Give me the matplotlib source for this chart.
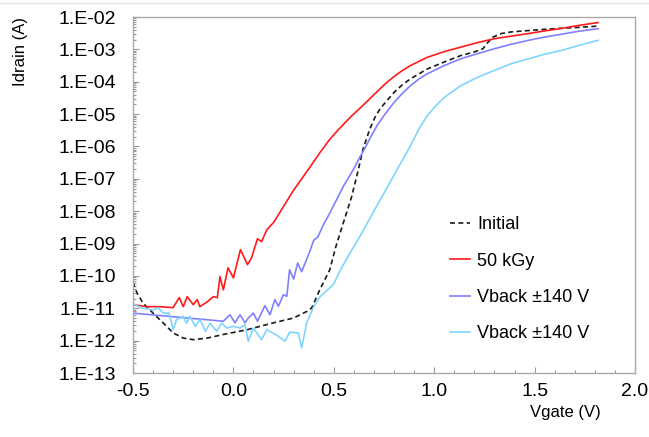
import numpy as np
import matplotlib
matplotlib.use('Agg')
import matplotlib.pyplot as plt
from matplotlib.lines import Line2D
from matplotlib.ticker import FixedLocator, FuncFormatter, LogLocator, MultipleLocator, NullFormatter

plt.rcParams['font.family'] = ['Liberation Sans', 'DejaVu Sans']

# Данные (ток в виде log10)
vg_initial = [-0.5, -0.48, -0.45, -0.40, -0.35, -0.30, -0.25, -0.20, -0.13, -0.05, 0.07, 0.20,
              0.30, 0.365, 0.39, 0.43, 0.48, 0.51, 0.547, 0.589, 0.622, 0.647, 0.68, 0.705,
              0.73, 0.765, 0.80, 0.84, 0.882, 0.964, 1.05, 1.133, 1.2, 1.243, 1.268, 1.293,
              1.335, 1.385, 1.55, 1.72, 1.816]
log_initial = [-10.2, -10.53, -10.84, -11.15, -11.45, -11.76, -11.92, -11.97, -11.92, -11.81, -11.66, -11.45,
               -11.3, -11.1, -10.99, -10.43, -9.81, -9.1, -8.37, -7.55, -6.72, -6.05, -5.45, -5.1,
               -4.84, -4.58, -4.33, -4.1, -3.91, -3.61, -3.39, -3.19, -3.08, -2.98, -2.78, -2.62,
               -2.51, -2.46, -2.38, -2.32, -2.28]

vg_50kgy = [-0.5, -0.43, -0.37, -0.30, -0.27, -0.25, -0.23, -0.20, -0.18, -0.167, -0.13, -0.10,
            -0.08, -0.067, -0.05, -0.027, 0.0, 0.035, 0.07, 0.09, 0.12, 0.14, 0.167, 0.2,
            0.3, 0.38, 0.43, 0.48, 0.52, 0.56, 0.59, 0.63, 0.672, 0.715, 0.757, 0.80,
            0.84, 0.882, 0.964, 1.05, 1.133, 1.217, 1.30, 1.385, 1.47, 1.55, 1.636, 1.72, 1.816]
log_50kgy = [-10.89, -10.95, -10.95, -10.98, -10.67, -10.95, -10.64, -10.89, -10.73, -10.95, -10.80, -10.64,
             -10.67, -10.02, -10.43, -9.75, -10.06, -9.19, -9.65, -9.45, -8.85, -8.94, -8.57, -8.35,
             -7.35, -6.65, -6.2, -5.78, -5.5, -5.24, -5.05, -4.82, -4.57, -4.31, -4.06, -3.84,
             -3.66, -3.5, -3.25, -3.07, -2.93, -2.79, -2.67, -2.59, -2.51, -2.43, -2.35, -2.26, -2.17]

vg_vback1 = [-0.5, -0.05, -0.017, 0.008, 0.033, 0.058, 0.074, 0.10, 0.12, 0.157, 0.182, 0.207,
             0.224, 0.249, 0.266, 0.28, 0.30, 0.32, 0.34, 0.38, 0.40, 0.42, 0.45, 0.48,
             0.547, 0.597, 0.63, 0.655, 0.68, 0.715, 0.748, 0.80, 0.84, 0.882, 0.923, 0.964,
             1.05, 1.133, 1.217, 1.30, 1.385, 1.47, 1.55, 1.636, 1.72, 1.816]
log_vback1 = [-11.15, -11.4, -11.2, -11.45, -11.2, -11.45, -11.3, -11.15, -11.4, -10.92, -11.2, -10.73,
              -10.94, -10.58, -10.63, -9.81, -10.1, -9.6, -9.87, -9.25, -8.9, -8.8, -8.4, -8.06,
              -7.24, -6.72, -6.33, -6.05, -5.75, -5.36, -5.06, -4.64, -4.37, -4.12, -3.92, -3.76,
              -3.5, -3.29, -3.13, -2.98, -2.84, -2.72, -2.62, -2.53, -2.44, -2.36]

vg_vback2 = [-0.5, -0.457, -0.40, -0.374, -0.35, -0.32, -0.30, -0.283, -0.25, -0.233, -0.216, -0.19,
             -0.166, -0.14, -0.116, -0.083, -0.058, -0.033, 0.0, 0.033, 0.058, 0.074, 0.1, 0.14,
             0.166, 0.22, 0.257, 0.28, 0.323, 0.34, 0.365, 0.40, 0.43, 0.50, 0.53, 0.58,
             0.63, 0.713, 0.796, 0.88, 0.923, 0.964, 1.007, 1.05, 1.133, 1.217, 1.30, 1.385,
             1.47, 1.55, 1.636, 1.72, 1.816]
log_vback2 = [-10.86, -10.99, -11.05, -10.99, -11.15, -11.15, -11.66, -11.35, -11.25, -11.46, -11.25, -11.56,
              -11.35, -11.71, -11.46, -11.71, -11.46, -11.61, -11.56, -11.61, -11.5, -12.02, -11.61, -11.97,
              -11.66, -11.85, -12.02, -11.74, -11.76, -12.22, -11.45, -10.95, -10.65, -10.25, -9.85, -9.3,
              -8.78, -7.85, -6.93, -6.0, -5.47, -5.06, -4.75, -4.48, -4.12, -3.86, -3.65, -3.44,
              -3.29, -3.15, -3.03, -2.88, -2.72]

series = [
    (vg_initial, log_initial, 'Initial', '#1a1a1a', (0, (3, 2))),
    (vg_50kgy, log_50kgy, '50 kGy', '#ff1a1a', '-'),
    (vg_vback1, log_vback1, 'Vback ±140 V', '#8080ff', '-'),
    (vg_vback2, log_vback2, 'Vback ±140 V', '#80d4ff', '-'),
]

W, H = 649, 437
fig = plt.figure(figsize=(W / 100, H / 100), dpi=100)
ax = fig.add_axes([133 / W, 1 - 373 / H, (635 - 133) / W, (373 - 17) / H])

for vg, logi, label, color, ls in series:
    ax.plot(vg, 10.0 ** np.array(logi), color=color, linestyle=ls, lw=1.2, label=label)

ax.set_yscale('log')
ax.set_ylim(1e-13, 1e-2)
ax.set_xlim(-0.5, 2.0)

# Оси и подписи
ax.yaxis.set_major_locator(FixedLocator([10.0 ** k for k in range(-13, -1)]))
ax.yaxis.set_major_formatter(FuncFormatter(lambda v, p: '1.E-%02d' % round(-np.log10(v))))
ax.yaxis.set_minor_locator(LogLocator(base=10, subs=np.arange(2, 10), numticks=100))
ax.yaxis.set_minor_formatter(NullFormatter())
ax.xaxis.set_major_locator(MultipleLocator(0.5))
ax.xaxis.set_minor_locator(MultipleLocator(0.1))
ax.xaxis.set_major_formatter(FuncFormatter(lambda v, p: '%.1f' % v))

ax.tick_params(which='both', direction='in', color='#999999', width=0.8)
ax.tick_params(which='major', length=4, labelsize=14)
ax.tick_params(which='minor', length=2.5)
ax.tick_params(axis='y', which='major', pad=12.5)
ax.tick_params(axis='x', which='major', pad=7)
for s in ax.spines.values():
    s.set_color('#aaaaaa')
    s.set_linewidth(1.0)

fig.text(20 / W, 1 - 17 / H, 'Idrain (A)', rotation=90, ha='center', va='top', fontsize=12)
fig.text(601 / W, 1 - 412 / H, 'Vgate (V)', ha='right', va='center', fontsize=12)

ax.legend(loc='upper left', bbox_to_anchor=((450 - 133) / 502, (373 - 216) / 356),
          frameon=False, fontsize=13, handlelength=1.1, handletextpad=0.4,
          labelspacing=1.08, borderpad=0, borderaxespad=0)

# тонкая серая полоса сверху, как на скриншоте
fig.add_artist(Line2D([0, 1], [1 - 3 / H, 1 - 3 / H], transform=fig.transFigure,
                      color='#e3e3e3', lw=1))

fig.savefig('out.png', dpi=100)
